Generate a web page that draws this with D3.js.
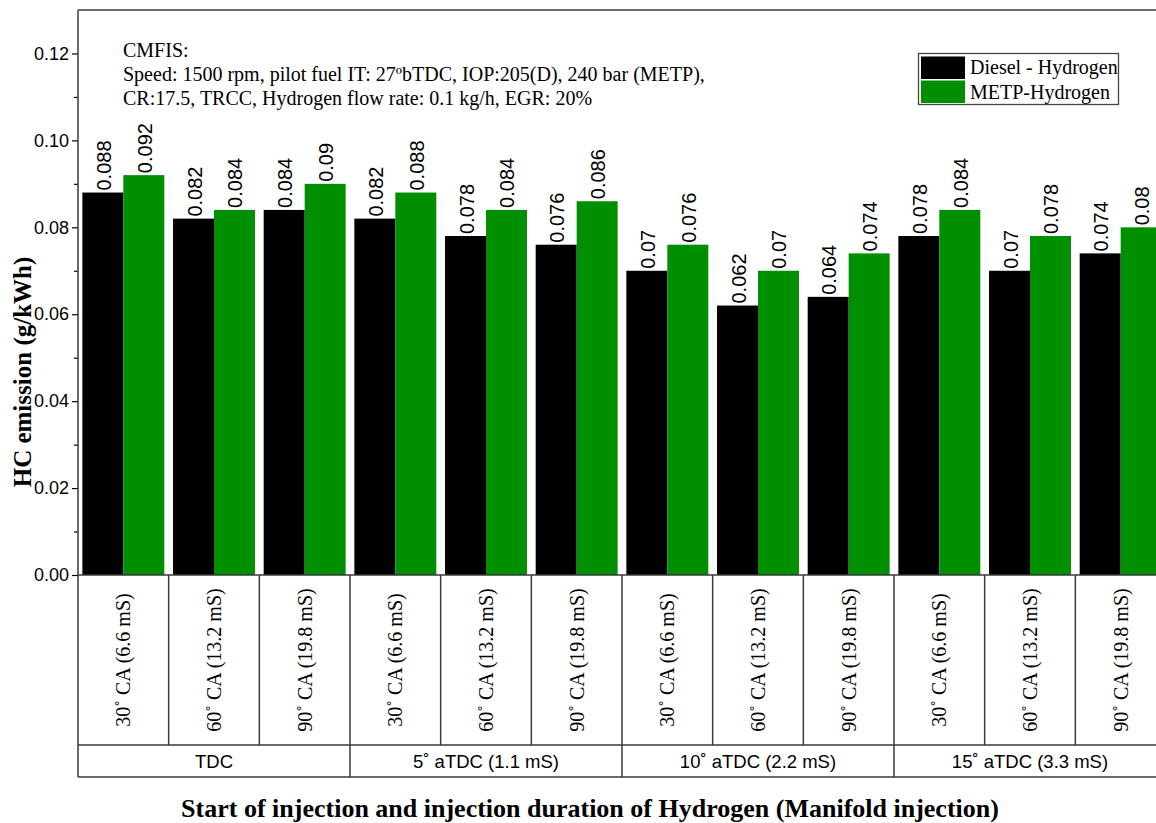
<!DOCTYPE html>
<html>
<head>
<meta charset="utf-8">
<script src="https://cdn.jsdelivr.net/npm/d3@7/dist/d3.min.js"></script>
<style>
  html, body { margin: 0; padding: 0; background: #fff; }
  svg { display: block; overflow: hidden; }
</style>
</head>
<body>
<svg id="chart" width="1156" height="823"></svg>
<script>
// Injection duration (per bar pair) and start of injection (group)
const durations = ["30˚ CA (6.6 mS)", "60˚ CA (13.2 mS)", "90˚ CA (19.8 mS)"];
const starts = ["TDC", "5˚ aTDC (1.1 mS)", "10˚ aTDC (2.2 mS)", "15˚ aTDC (3.3 mS)"];
const seriesNames = ["Diesel - Hydrogen", "METP-Hydrogen"];
const seriesColors = ["#000000", "#008f00"];
const dieselHydrogen = [0.088, 0.082, 0.084, 0.082, 0.078, 0.076, 0.07, 0.062, 0.064, 0.078, 0.07, 0.074];
const metpHydrogen   = [0.092, 0.084, 0.09, 0.088, 0.084, 0.086, 0.076, 0.07, 0.074, 0.084, 0.078, 0.08];
const yTicks = [0, 0.02, 0.04, 0.06, 0.08, 0.10, 0.12];
const yMinorTicks = [0.01, 0.03, 0.05, 0.07, 0.09, 0.11];
const noteLines = [
  "CMFIS:",
  "Speed: 1500 rpm, pilot fuel IT: 27ºbTDC, IOP:205(D), 240 bar (METP),",
  "CR:17.5, TRCC, Hydrogen flow rate: 0.1 kg/h, EGR: 20%"
];

const svg = d3.select("#chart");
const plotLeft = 78, plotRight = 1166, plotTop = 10, plotBase = 575;
const rowLine = 745, tableBottom = 777;
const lineColor = "#3a3a3a";

// one band per (start, duration) pair
const cats = [];
starts.forEach((s, gi) => durations.forEach((d, di) => cats.push({ key: gi + "-" + di, start: s, dur: d })));

const x = d3.scaleBand().domain(cats.map(c => c.key)).range([plotLeft, plotRight]).paddingInner(0.096).paddingOuter(0.048);
const xSub = d3.scaleBand().domain([0, 1]).range([0, x.bandwidth()]).padding(0);
const y = d3.scaleLinear().domain([0, 0.13]).range([plotBase, plotTop]);
const step = x.step();

const data = cats.map((c, i) => ({ ...c, vals: [dieselHydrogen[i], metpHydrogen[i]] }));

// bars
const g = svg.append("g");
const catG = g.selectAll("g.cat").data(data).join("g")
  .attr("transform", d => `translate(${x(d.key)},0)`);
catG.selectAll("rect").data(d => d.vals.map((v, k) => ({ v, k }))).join("rect")
  .attr("x", d => xSub(d.k))
  .attr("width", xSub.bandwidth())
  .attr("y", d => y(d.v))
  .attr("height", d => y(0) - y(d.v))
  .attr("fill", d => seriesColors[d.k]);

// value labels above bars
catG.selectAll("text.val").data(d => d.vals.map((v, k) => ({ v, k }))).join("text")
  .attr("class", "val")
  .attr("transform", d => `translate(${xSub(d.k) + xSub.bandwidth() / 2 + 1},${y(d.v) - 2}) rotate(-90)`)
  .attr("dominant-baseline", "central")
  .attr("font-family", "Liberation Sans, Arial, sans-serif")
  .attr("font-size", 20)
  .attr("fill", "#000")
  .text(d => String(d.v));

// frame: top edge
svg.append("line").attr("x1", plotLeft).attr("x2", plotRight).attr("y1", plotTop).attr("y2", plotTop)
  .attr("stroke", lineColor).attr("stroke-width", 1.5);

// y axis
const yAxis = d3.axisLeft(y).tickValues(yTicks).tickFormat(d3.format(".2f")).tickSize(6).tickSizeOuter(0);
const ya = svg.append("g").attr("transform", `translate(${plotLeft},0)`).call(yAxis);
ya.select(".domain").remove();
ya.selectAll("line").attr("stroke", "#000").attr("stroke-width", 1.2);
ya.selectAll("text").attr("font-family", "Liberation Sans, Arial, sans-serif").attr("font-size", 18).attr("fill", "#000").attr("x", -9);
const yMinor = d3.axisLeft(y).tickValues(yMinorTicks).tickFormat("").tickSize(4).tickSizeOuter(0);
const ym = svg.append("g").attr("transform", `translate(${plotLeft},0)`).call(yMinor);
ym.select(".domain").remove();
ym.selectAll("line").attr("stroke", "#000").attr("stroke-width", 1.2);

// left edge (axis line continued down through the label table)
svg.append("line").attr("x1", plotLeft).attr("x2", plotLeft).attr("y1", plotTop).attr("y2", tableBottom)
  .attr("stroke", lineColor).attr("stroke-width", 1.5);

// label table rows
[plotBase, rowLine, tableBottom].forEach(yy => {
  svg.append("line").attr("x1", plotLeft).attr("x2", plotRight).attr("y1", yy).attr("y2", yy)
    .attr("stroke", lineColor).attr("stroke-width", 1.5);
});

// separators between durations and between start groups
cats.forEach((c, i) => {
  if (i === 0) return;
  const xx = x(c.key) - step * 0.048;
  const isGroup = i % durations.length === 0;
  svg.append("line").attr("x1", xx).attr("x2", xx).attr("y1", plotBase).attr("y2", isGroup ? tableBottom : rowLine)
    .attr("stroke", lineColor).attr("stroke-width", 1.5);
});

// duration labels (rotated)
svg.append("g").selectAll("text").data(cats).join("text")
  .attr("transform", d => `translate(${x(d.key) + x.bandwidth() / 2},${(plotBase + rowLine) / 2}) rotate(-90)`)
  .attr("text-anchor", "middle")
  .attr("dominant-baseline", "central")
  .attr("font-family", "Liberation Serif, Times New Roman, serif")
  .attr("font-size", 20)
  .attr("fill", "#000")
  .text(d => d.dur);

// start-of-injection group labels
svg.append("g").selectAll("text").data(starts).join("text")
  .attr("x", (d, i) => plotLeft + step * durations.length * (i + 0.5))
  .attr("y", (rowLine + tableBottom) / 2)
  .attr("text-anchor", "middle")
  .attr("dominant-baseline", "central")
  .attr("font-family", "Liberation Sans, Arial, sans-serif")
  .attr("font-size", 18.5)
  .attr("fill", "#000")
  .text(d => d);

// axis titles
svg.append("text")
  .attr("transform", `translate(31,372) rotate(-90)`)
  .attr("text-anchor", "middle")
  .attr("font-family", "Liberation Serif, Times New Roman, serif")
  .attr("font-weight", "bold")
  .attr("font-size", 25)
  .text("HC emission (g/kWh)");

svg.append("text")
  .attr("x", 590).attr("y", 817)
  .attr("text-anchor", "middle")
  .attr("font-family", "Liberation Serif, Times New Roman, serif")
  .attr("font-weight", "bold")
  .attr("font-size", 26)
  .text("Start of injection and injection duration of Hydrogen (Manifold injection)");

// test-condition note
svg.append("g").selectAll("text").data(noteLines).join("text")
  .attr("x", 123)
  .attr("y", (d, i) => 57 + i * 24)
  .attr("font-family", "Liberation Serif, Times New Roman, serif")
  .attr("font-size", 20)
  .attr("fill", "#000")
  .text(d => d);

// legend
const lg = svg.append("g");
lg.append("rect").attr("x", 918.5).attr("y", 53.5).attr("width", 200).attr("height", 51)
  .attr("fill", "#fff").attr("stroke", "#444").attr("stroke-width", 1.3);
seriesNames.forEach((name, i) => {
  lg.append("rect").attr("x", 921).attr("y", 56.5 + i * 24).attr("width", 44).attr("height", 22.5)
    .attr("fill", seriesColors[i]);
  lg.append("text").attr("x", 970).attr("y", 74 + i * 24.5)
    .attr("font-family", "Liberation Serif, Times New Roman, serif")
    .attr("font-size", 20)
    .attr("fill", "#000")
    .text(name);
});
</script>
</body>
</html>
